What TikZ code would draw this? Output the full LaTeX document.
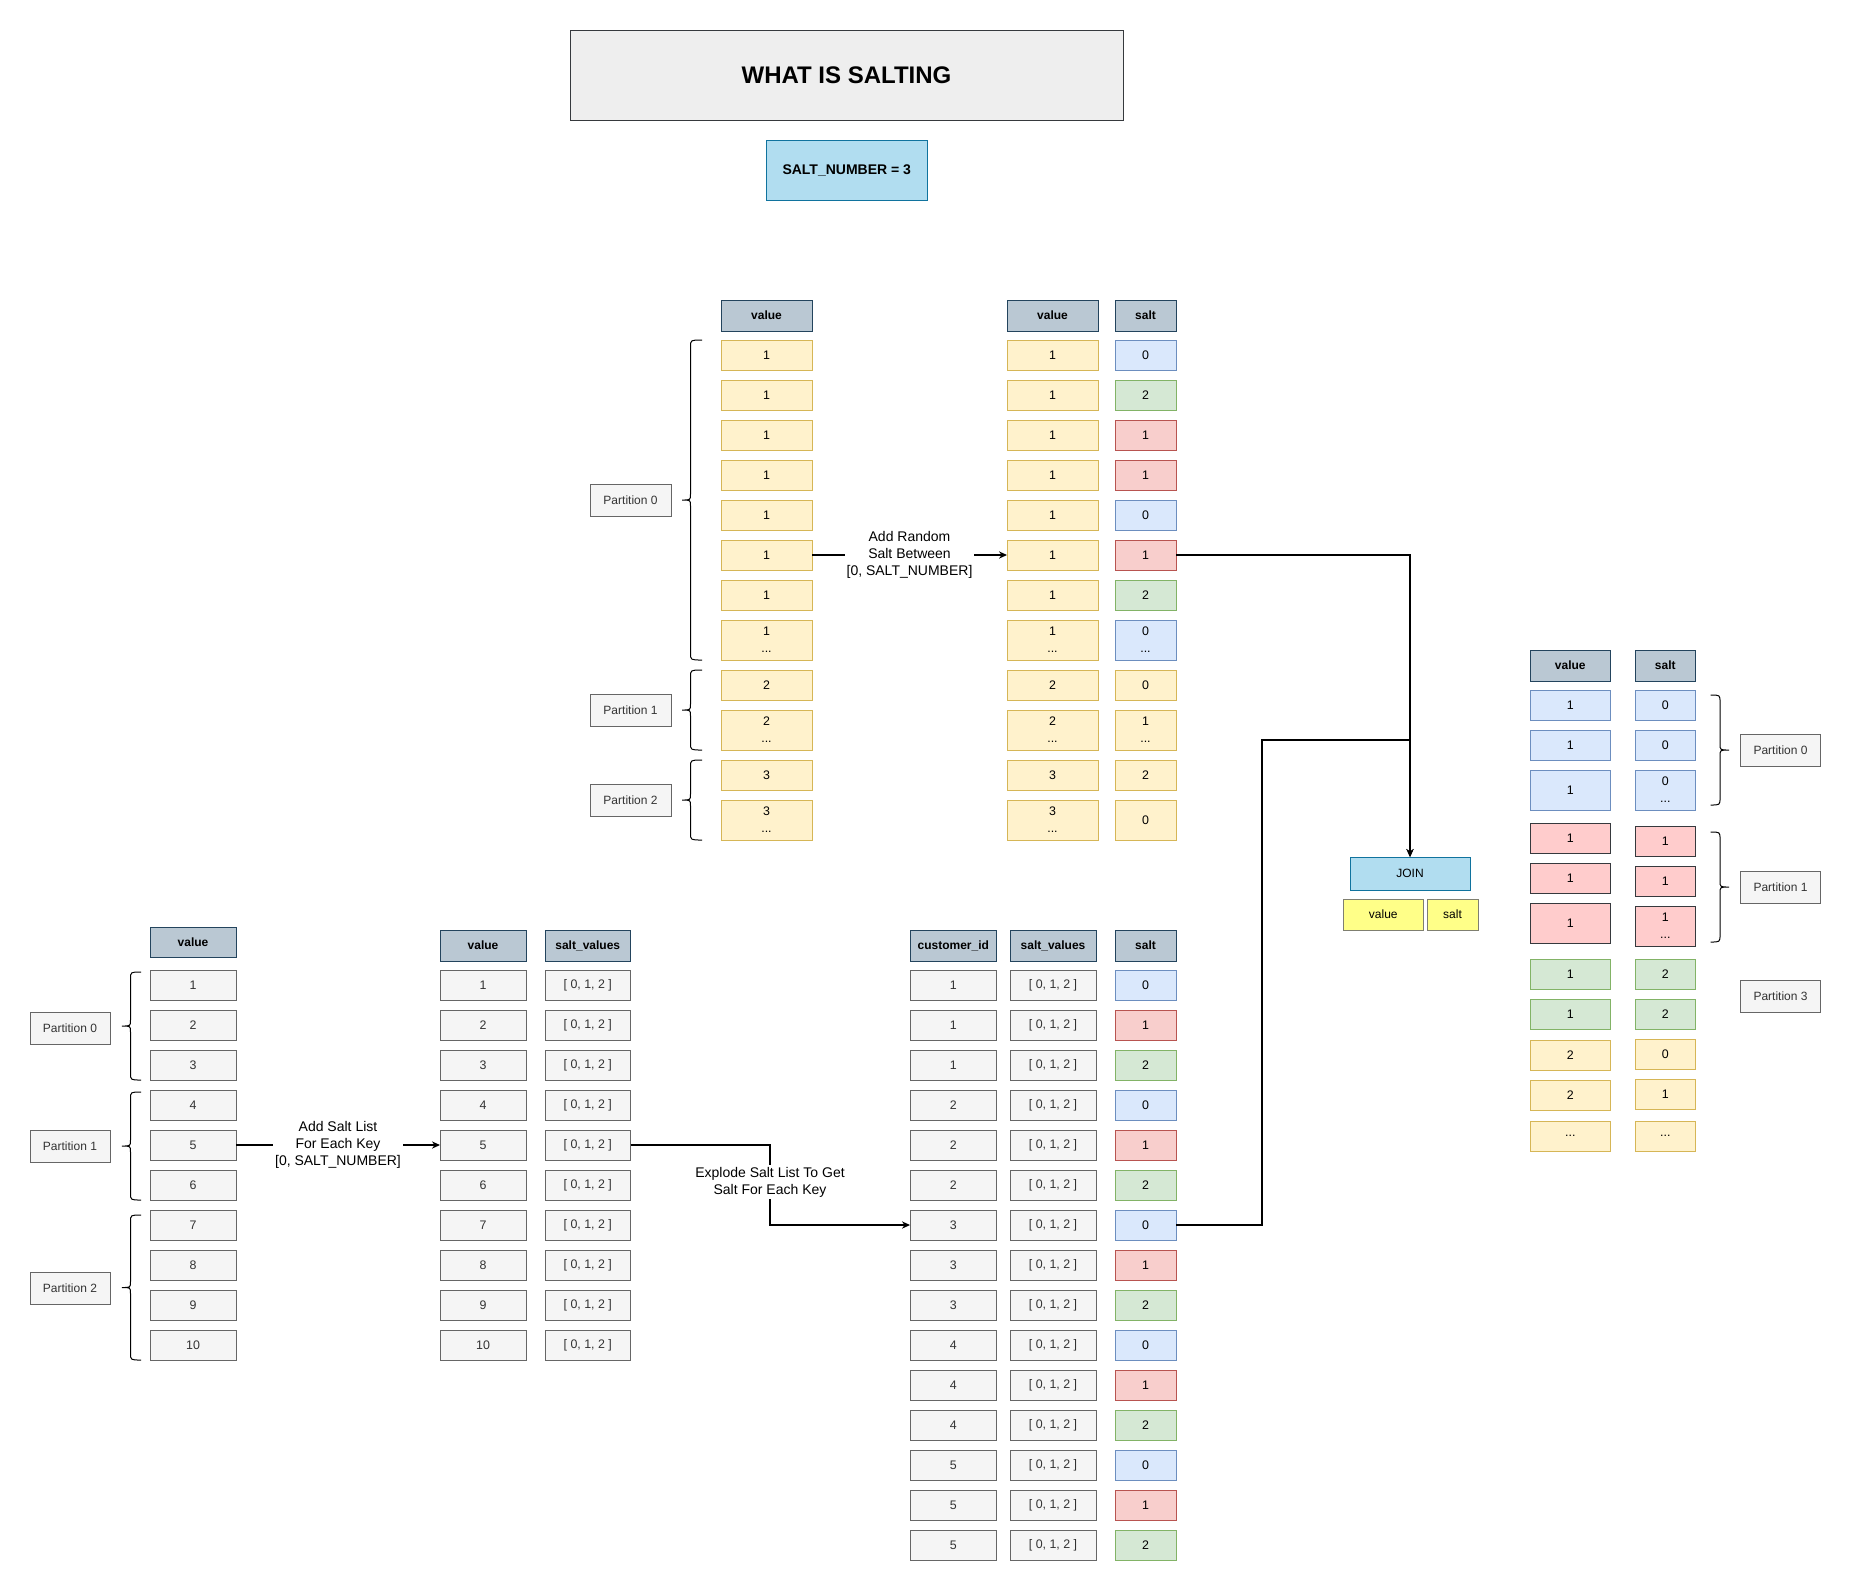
\documentclass[tikz,border=0pt]{standalone}
\usepackage{fontspec}
\setmainfont{Liberation Sans}
\usetikzlibrary{arrows.meta}
\definecolor{hdrF}{HTML}{BAC8D3}
\definecolor{hdrD}{HTML}{23445D}
\definecolor{yelF}{HTML}{FFF2CC}
\definecolor{yelD}{HTML}{D6B656}
\definecolor{bluF}{HTML}{DAE8FC}
\definecolor{bluD}{HTML}{6C8EBF}
\definecolor{grnF}{HTML}{D5E8D4}
\definecolor{grnD}{HTML}{82B366}
\definecolor{redF}{HTML}{F8CECC}
\definecolor{redD}{HTML}{B85450}
\definecolor{pnkF}{HTML}{FFCCCC}
\definecolor{pnkD}{HTML}{36393D}
\definecolor{gryF}{HTML}{F5F5F5}
\definecolor{gryD}{HTML}{666666}
\definecolor{gryT}{HTML}{333333}
\definecolor{ttlF}{HTML}{EEEEEE}
\definecolor{ttlD}{HTML}{36393D}
\definecolor{cyaF}{HTML}{B1DDF0}
\definecolor{cyaD}{HTML}{10739E}
\definecolor{ntF}{HTML}{FFFF88}
\definecolor{ntD}{HTML}{7F7F70}

\newcommand\bx[7]{\node[#1, minimum width={((#5)-(#3))*0.5pt}, minimum height={((#6)-(#4))*0.5pt}] (#2) at ({((#3)+(#5))/2},{((#4)+(#6))/2}) {#7};}
\newcommand\brc[5]{\pgfmathsetmacro\bym{((#4)+(#5))/2}\draw[brcl] (#3,#4) .. controls (#2,#4) .. (#2,{#4+7}) -- (#2,{\bym-6}) .. controls (#2,\bym) .. (#1,\bym) .. controls (#2,\bym) .. (#2,{\bym+6}) -- (#2,{#5-7}) .. controls (#2,#5) .. (#3,#5);}

\begin{document}
\begin{tikzpicture}[x=0.5pt,y=-0.5pt,
  base/.style={draw, inner sep=0pt, outer sep=0pt, align=center, line width=0.5pt, font=\fontsize{6.2}{8.6}\selectfont},
  hdr/.style={base, fill=hdrF, draw=hdrD, font=\bfseries\fontsize{6}{7}\selectfont},
  cyel/.style={base, fill=yelF, draw=yelD},
  cblu/.style={base, fill=bluF, draw=bluD},
  cgrn/.style={base, fill=grnF, draw=grnD},
  cred/.style={base, fill=redF, draw=redD},
  cpnk/.style={base, fill=pnkF, draw=pnkD},
  cgry/.style={base, fill=gryF, draw=gryD, text=gryT},
  part/.style={cgry, font=\fontsize{6}{7}\selectfont},
  ttl/.style={base, fill=ttlF, draw=ttlD, font=\bfseries\fontsize{12}{14}\selectfont},
  cya/.style={base, fill=cyaF, draw=cyaD},
  sn/.style={cya, font=\bfseries\fontsize{7}{8}\selectfont},
  jn/.style={cya, font=\fontsize{6}{7}\selectfont},
  nt/.style={base, fill=ntF, draw=ntD, font=\fontsize{6}{7}\selectfont},
  lbl/.style={fill=white, inner sep=1pt, align=center, font=\fontsize{7}{8.6}\selectfont},
  conn/.style={line width=0.6pt, -{Stealth[length=4pt,width=3.6pt]}},
  brcl/.style={line width=0.5pt, black}
]
\useasboundingbox (0,0) rectangle (1851,1591);

% title
\bx{ttl}{title}{570}{30}{1123}{120}{WHAT IS SALTING}
\bx{sn}{saltn}{766}{140}{927.5}{200}{SALT\_NUMBER = 3}

% ---------- top tables ----------
\bx{hdr}{ah}{721}{300}{812}{331}{value}
\bx{hdr}{bh}{1007}{300}{1098}{331}{value}
\bx{hdr}{sh}{1115}{300}{1176}{331}{salt}
\foreach \i/\v/\s in {1/0/cblu,2/2/cgrn,3/1/cred,4/1/cred,5/0/cblu,6/1/cred,7/2/cgrn}{
  \bx{cyel}{a\i}{721}{300+40*\i}{812}{330+40*\i}{1}
  \bx{cyel}{b\i}{1007}{300+40*\i}{1098}{330+40*\i}{1}
  \bx{\s}{s\i}{1115}{300+40*\i}{1176}{330+40*\i}{\v}
}
\bx{cyel}{a8}{721}{620}{812}{660}{1\\...}
\bx{cyel}{b8}{1007}{620}{1098}{660}{1\\...}
\bx{cblu}{s8}{1115}{620}{1176}{660}{0\\...}
\bx{cyel}{a9}{721}{670}{812}{700}{2}
\bx{cyel}{b9}{1007}{670}{1098}{700}{2}
\bx{cyel}{s9}{1115}{670}{1176}{700}{0}
\bx{cyel}{a10}{721}{710}{812}{750}{2\\...}
\bx{cyel}{b10}{1007}{710}{1098}{750}{2\\...}
\bx{cyel}{s10}{1115}{710}{1176}{750}{1\\...}
\bx{cyel}{a11}{721}{760}{812}{790}{3}
\bx{cyel}{b11}{1007}{760}{1098}{790}{3}
\bx{cyel}{s11}{1115}{760}{1176}{790}{2}
\bx{cyel}{a12}{721}{800}{812}{840}{3\\...}
\bx{cyel}{b12}{1007}{800}{1098}{840}{3\\...}
\bx{cyel}{s12}{1115}{800}{1176}{840}{0}

\bx{part}{tp0}{590}{484}{671}{516}{Partition 0}
\bx{part}{tp1}{590}{694}{671}{726}{Partition 1}
\bx{part}{tp2}{590}{784}{671}{816}{Partition 2}
\brc{682}{690.5}{702}{340}{660}
\brc{682}{690.5}{702}{670}{750}
\brc{682}{690.5}{702}{760}{840}

\draw[conn] (a6.east) -- node[lbl] (l1) {Add Random\\Salt Between\\{}[0, SALT\_NUMBER]} (b6.west);

% ---------- join ----------
\bx{jn}{join}{1350}{857}{1470}{890}{JOIN}
\bx{nt}{jv}{1343}{899}{1423.5}{930}{value}
\bx{nt}{js}{1427}{899}{1478}{930}{salt}
\draw[conn] (s6.east) -| (join.north);

% ---------- right table ----------
\bx{hdr}{rvh}{1530}{650}{1610.5}{681}{value}
\bx{hdr}{rsh}{1635}{650}{1695.5}{681}{salt}
\bx{cblu}{rv1}{1530}{690}{1610.5}{720}{1}
\bx{cblu}{rv2}{1530}{730}{1610.5}{760}{1}
\bx{cblu}{rv3}{1530}{770}{1610.5}{810}{1}
\bx{cpnk}{rv4}{1530}{823}{1610.5}{853}{1}
\bx{cpnk}{rv5}{1530}{863}{1610.5}{893}{1}
\bx{cpnk}{rv6}{1530}{903}{1610.5}{943}{1}
\bx{cgrn}{rv7}{1530}{959}{1610.5}{989}{1}
\bx{cgrn}{rv8}{1530}{999}{1610.5}{1029}{1}
\bx{cyel}{rv9}{1530}{1040}{1610.5}{1070}{2}
\bx{cyel}{rv10}{1530}{1080}{1610.5}{1110}{2}
\bx{cyel}{rv11}{1530}{1121}{1610.5}{1151}{...}
\bx{cblu}{rs1}{1635}{690}{1695.5}{720}{0}
\bx{cblu}{rs2}{1635}{730}{1695.5}{760}{0}
\bx{cblu}{rs3}{1635}{770}{1695.5}{810}{0\\...}
\bx{cpnk}{rs4}{1635}{826}{1695.5}{856}{1}
\bx{cpnk}{rs5}{1635}{866}{1695.5}{896}{1}
\bx{cpnk}{rs6}{1635}{906}{1695.5}{946}{1\\...}
\bx{cgrn}{rs7}{1635}{959}{1695.5}{989}{2}
\bx{cgrn}{rs8}{1635}{999}{1695.5}{1029}{2}
\bx{cyel}{rs9}{1635}{1039}{1695.5}{1069}{0}
\bx{cyel}{rs10}{1635}{1079}{1695.5}{1109}{1}
\bx{cyel}{rs11}{1635}{1121}{1695.5}{1151}{...}
\bx{part}{rp0}{1740.5}{734}{1820.5}{766}{Partition 0}
\bx{part}{rp1}{1740.5}{871}{1820.5}{903}{Partition 1}
\bx{part}{rp3}{1740.5}{980}{1820.5}{1012}{Partition 3}
\brc{1729}{1720}{1710.5}{695}{805}
\brc{1729}{1720}{1710.5}{832}{942}

% ---------- bottom-left tables ----------
\bx{hdr}{lh}{150}{927}{236}{957}{value}
\bx{hdr}{mh}{440}{930}{526}{961}{value}
\bx{hdr}{svh}{545}{930}{630.5}{961}{salt\_values}
\foreach \i in {1,...,10}{
  \bx{cgry}{l\i}{150}{930+40*\i}{236}{960+40*\i}{\i}
  \bx{cgry}{m\i}{440}{930+40*\i}{526}{960+40*\i}{\i}
  \bx{cgry}{sv\i}{545}{930+40*\i}{630.5}{960+40*\i}{[ 0, 1, 2 ]}
}
\bx{part}{bp0}{30}{1012}{110}{1044}{Partition 0}
\bx{part}{bp1}{30}{1130}{110}{1162}{Partition 1}
\bx{part}{bp2}{30}{1272}{110}{1304}{Partition 2}
\brc{122}{130.5}{141}{972}{1080}
\brc{122}{130.5}{141}{1092}{1200}
\brc{122}{130.5}{141}{1215}{1360}

\draw[conn] (l5.east) -- node[lbl] (l2) {Add Salt List\\For Each Key\\{}[0, SALT\_NUMBER]} (m5.west);

% ---------- exploded table ----------
\bx{hdr}{ch}{910}{930}{996.5}{961}{customer\_id}
\bx{hdr}{cvh}{1010}{930}{1096}{961}{salt\_values}
\bx{hdr}{csh}{1115}{930}{1176}{961}{salt}
\foreach \i/\k/\v/\s in {1/1/0/cblu,2/1/1/cred,3/1/2/cgrn,4/2/0/cblu,5/2/1/cred,6/2/2/cgrn,7/3/0/cblu,8/3/1/cred,9/3/2/cgrn,10/4/0/cblu,11/4/1/cred,12/4/2/cgrn,13/5/0/cblu,14/5/1/cred,15/5/2/cgrn}{
  \bx{cgry}{c\i}{910}{930+40*\i}{996.5}{960+40*\i}{\k}
  \bx{cgry}{cv\i}{1010}{930+40*\i}{1096}{960+40*\i}{[ 0, 1, 2 ]}
  \bx{\s}{cs\i}{1115}{930+40*\i}{1176}{960+40*\i}{\v}
}

\coordinate (e2) at (770,1225);
\draw[conn] (sv5.east) -| (e2) -- (c7.west);
\node[lbl] (l3) at (770,1182) {Explode Salt List To Get\\Salt For Each Key};

\coordinate (k1) at (1262,740);
\draw[conn] (cs7.east) -| (k1) -| (join.north);
\end{tikzpicture}
\end{document}
